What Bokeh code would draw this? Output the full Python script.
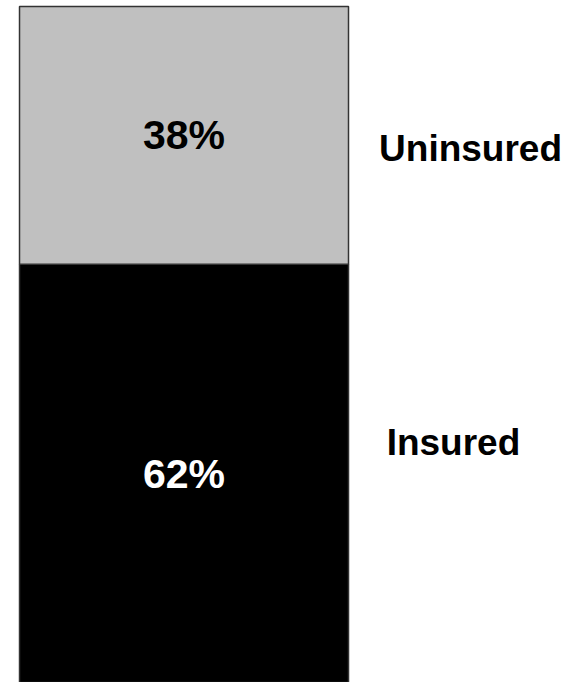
from bokeh.plotting import figure
from bokeh.models import ColumnDataSource, Range1d
from bokeh.core.properties import value
from bokeh.embed import file_html
from bokeh.resources import INLINE

categories = ["Insured", "Uninsured"]
shares = [62, 38]
colors = ["#000000", "#C0C0C0"]
text_colors = ["#FFFFFF", "#000000"]

bottoms = [sum(shares[:i]) for i in range(len(shares))]
tops = [b + s for b, s in zip(bottoms, shares)]
mids = [(b + t) / 2 for b, t in zip(bottoms, tops)]
labels = [f"{s}%" for s in shares]

src = ColumnDataSource(dict(
    cat=categories, bottom=bottoms, top=tops, mid=mids, label=labels,
    color=colors, tcolor=text_colors,
    x=[0] * len(shares),
    side_x=[0.819, 0.871],
    side_off=[-32, 13],
))

p = figure(width=571, height=682, output_backend="svg", toolbar_location=None,
           x_range=Range1d(-0.5578, 1.1778), y_range=Range1d(0.295, 100.885),
           min_border=0, outline_line_color=None)
p.axis.visible = False
p.grid.visible = False

p.vbar(x="x", width=1, bottom="bottom", top="top", fill_color="color",
       line_color="#333333", line_width=1.5, source=src)

p.text(x="x", y="mid", text="label", text_color="tcolor",
       text_font=value("Liberation Sans"), text_font_style="bold",
       text_font_size="41px", text_align="center", text_baseline="middle",
       source=src)

p.text(x="side_x", y="mid", text="cat", y_offset="side_off", text_color="#000000",
       text_font=value("Liberation Sans"), text_font_style="bold",
       text_font_size="37px", text_align="center", text_baseline="middle",
       source=src)

open("out.html", "w").write(file_html(p, INLINE))
